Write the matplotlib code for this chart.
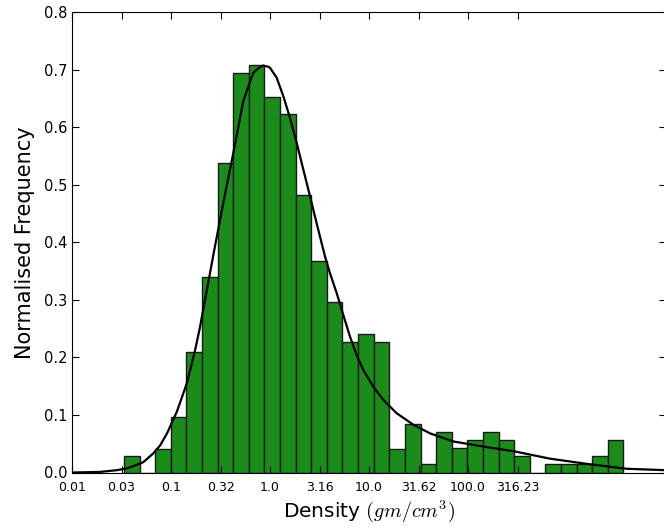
import matplotlib
matplotlib.use('Agg')
import matplotlib.pyplot as plt
import numpy as np

plt.rcParams['mathtext.fontset'] = 'cm'

# histogram in log10(density) space, 32 equal bins
bin_lo, bin_hi, n_bins = -1.475, 3.570, 32
freq = [0.028, 0.0, 0.041, 0.097, 0.210, 0.339, 0.538, 0.694, 0.708, 0.652,
        0.623, 0.482, 0.368, 0.296, 0.226, 0.240, 0.226, 0.041, 0.084, 0.014,
        0.070, 0.042, 0.056, 0.070, 0.056, 0.028, 0.0, 0.014, 0.014, 0.014,
        0.028, 0.056]

# fitted curve
curve_x = [-2.0, -1.85, -1.72, -1.55, -1.45, -1.38, -1.28, -1.18, -1.11, -1.04,
           -0.94, -0.84, -0.76, -0.71, -0.64, -0.57, -0.47, -0.375, -0.27, -0.22,
           -0.17, -0.12, -0.07, -0.02, 0.0, 0.067, 0.134, 0.202, 0.269, 0.337,
           0.404, 0.471, 0.556, 0.606, 0.673, 0.740, 0.808, 0.875, 0.943, 1.044,
           1.145, 1.279, 1.448, 1.616, 1.85, 2.155, 2.46, 2.83, 3.2, 3.6, 4.0]
curve_y = [0.0, 0.0005, 0.001, 0.004, 0.007, 0.011, 0.018, 0.033, 0.047, 0.068,
           0.106, 0.155, 0.210, 0.250, 0.315, 0.380, 0.470, 0.551, 0.645, 0.670,
           0.694, 0.702, 0.707, 0.705, 0.703, 0.686, 0.654, 0.616, 0.573, 0.526,
           0.480, 0.433, 0.375, 0.346, 0.312, 0.274, 0.236, 0.204, 0.178, 0.149,
           0.126, 0.103, 0.083, 0.068, 0.054, 0.045, 0.037, 0.024, 0.015, 0.0065,
           0.004]

tick_pos = np.arange(-2, 3, 0.5)
tick_labels = ['0.01', '0.03', '0.1', '0.32', '1.0', '3.16', '10.0', '31.62',
               '100.0', '316.23']

fig = plt.figure(figsize=(6.64, 5.29), dpi=100)
ax = fig.add_axes([72/664, (529-472.5)/529, (666-72)/664, (472.5-12)/529])

edges = np.linspace(bin_lo, bin_hi, n_bins + 1)
ax.bar(edges[:-1], freq, width=np.diff(edges), align='edge',
       facecolor='#1a8c1a', edgecolor='#1a1a1a', linewidth=1.0)
ax.plot(curve_x, curve_y, color='black', lw=1.6)

ax.set_xlim(-2, 4)
ax.set_ylim(0, 0.8)
ax.set_xticks(tick_pos)
ax.set_xticklabels(tick_labels, fontsize=9)
ax.set_yticks(np.arange(0, 0.81, 0.1))
ax.set_yticklabels(['%.1f' % v for v in np.arange(0, 0.81, 0.1)], fontsize=10.5)
ax.tick_params(direction='in', top=True, right=True, length=5, width=0.8)
ax.tick_params(axis='x', pad=6)

ax.set_xlabel('Density $(gm/cm^3)$', fontsize=14.5, labelpad=3)
ax.set_ylabel('Normalised Frequency', fontsize=15, labelpad=6)

fig.savefig('out.png', dpi=100)
